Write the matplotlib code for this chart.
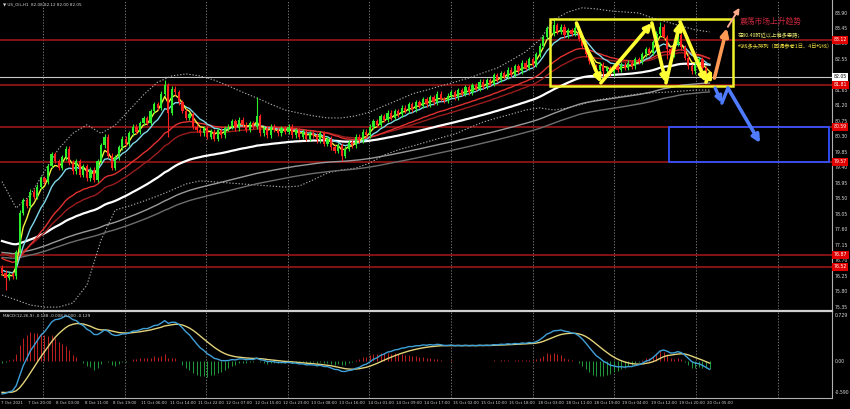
import matplotlib
matplotlib.use("Agg")
import matplotlib.pyplot as plt
from matplotlib.patches import Rectangle
from matplotlib.transforms import blended_transform_factory
import numpy as np

# ---- US_OIL H1 candles (one close per hourly bar) ----
first_open = 76.50
closes = [
    76.35, 76.20, 76.30, 76.25, 76.95, 78.10, 78.45, 78.30,
    78.70, 78.55, 78.85, 79.10, 79.00, 79.45, 79.80, 79.60,
    79.40, 79.70, 79.95, 79.55, 79.30, 79.60, 79.20, 79.45,
    79.10, 79.35, 79.05, 79.60, 80.05, 80.30, 79.75, 79.40,
    79.70, 80.00, 80.25, 80.10, 80.40, 80.60, 80.45, 80.70,
    80.85, 80.70, 81.05, 81.25, 81.15, 81.55, 81.80, 81.00,
    81.70, 81.60, 81.30, 81.05, 80.85, 80.95, 80.60, 80.50,
    80.40, 80.55, 80.30, 80.45, 80.25, 80.50, 80.35, 80.55,
    80.60, 80.75, 80.55, 80.80, 80.65, 80.50, 80.70, 80.60,
    80.90, 80.40, 80.55, 80.35, 80.60, 80.50, 80.40, 80.55,
    80.45, 80.60, 80.35, 80.50, 80.30, 80.45, 80.25, 80.40,
    80.35, 80.20, 80.40, 80.10, 80.25, 80.00, 79.90, 80.05,
    79.75, 79.95, 80.15, 80.05, 80.30, 80.20, 80.45, 80.35,
    80.60, 80.75, 80.65, 80.90, 80.80, 81.00, 80.85, 81.05,
    80.95, 81.15, 81.05, 81.25, 81.10, 81.30, 81.20, 81.40,
    81.25, 81.45, 81.30, 81.55, 81.40, 81.35, 81.50, 81.60,
    81.45, 81.65, 81.55, 81.75, 81.60, 81.80, 81.70, 81.90,
    81.75, 81.95, 81.85, 82.10, 81.95, 82.15, 82.05, 82.25,
    82.10, 82.35, 82.20, 82.45, 82.30, 82.55, 82.40, 82.70,
    82.95, 83.20, 83.45, 83.30, 83.55, 83.35, 83.50, 83.25,
    83.40, 83.30, 83.45, 83.15, 82.95, 82.70, 82.50, 82.35,
    82.25, 82.40, 82.20, 82.30, 82.15, 82.35, 82.25, 82.40,
    82.30, 82.45, 82.35, 82.55, 82.50, 82.70, 82.85, 82.75,
    83.05, 83.30, 83.50, 83.20, 82.85, 82.70, 83.00, 83.25,
    82.90, 82.60, 82.35, 82.20, 82.40, 82.55, 82.30, 82.15,
    82.05,
]
high_spikes = {46: 81.95, 72: 81.45, 156: 83.75, 162: 83.62, 186: 83.65}
low_spikes = {1: 75.85, 47: 80.30, 96: 79.60, 170: 82.00, 188: 82.55}
wick = 0.07

# one date label every 8 bars
date_labels = ["7 Oct 2021", "7 Oct 20:00", "8 Oct 03:00", "8 Oct 11:00", "8 Oct 19:00",
               "11 Oct 06:00", "11 Oct 14:00", "11 Oct 22:00", "12 Oct 07:00", "12 Oct 15:00",
               "12 Oct 23:00", "13 Oct 08:00", "13 Oct 16:00", "14 Oct 01:00", "14 Oct 09:00",
               "14 Oct 17:00", "15 Oct 02:00", "15 Oct 10:00", "15 Oct 18:00", "18 Oct 03:00",
               "18 Oct 11:00", "18 Oct 19:00", "19 Oct 04:00", "19 Oct 12:00", "19 Oct 20:00",
               "20 Oct 05:00"]

# Bollinger bands, read every 4 bars
bb_upper = [79.00, 78.23, 78.60, 79.30, 79.95, 80.40, 80.65, 80.40, 80.64, 81.08,
            81.52, 81.89, 82.07, 82.13, 82.07, 81.95, 81.78, 81.60, 81.43, 81.25,
            81.08, 80.99, 80.91, 80.85, 80.85, 80.91, 81.02, 81.20, 81.37, 81.55,
            81.66, 81.78, 81.89, 82.01, 82.16, 82.30, 82.53, 82.77, 83.12, 83.70,
            83.93, 84.05, 84.02, 83.96, 83.93, 83.90, 83.75, 83.64, 83.52, 83.41,
            83.35]
bb_lower = [75.70, 75.56, 75.41, 75.35, 75.35, 75.47, 75.99, 77.30, 78.17, 78.29,
            78.43, 78.58, 78.75, 78.93, 79.02, 78.99, 78.96, 78.93, 78.90, 78.87,
            78.84, 78.87, 79.05, 79.25, 79.34, 79.39, 79.54, 79.77, 79.92, 80.03,
            80.15, 80.27, 80.38, 80.56, 80.73, 80.85, 80.96, 81.08, 81.14, 81.08,
            81.14, 81.25, 81.37, 81.43, 81.49, 81.55, 81.58, 81.60, 81.63, 81.66,
            81.66]

# moving averages: period and value at the left edge
ma_periods = [4, 9, 24, 34, 66, 120, 144]
ma_seeds = [76.25, 76.45, 76.80, 76.95, 77.30, 76.95, 76.80]
ma_colors = ["#f5f03c", "#7fd8e8", "#e03030", "#9a1c1c", "#ffffff", "#9a9a9a", "#6e6e6e"]
ma_widths = [1.0, 1.0, 1.0, 1.0, 1.6, 1.0, 1.0]

# MACD(12,26,9) starting values at the left edge
macd_seed_fast = 76.58
macd_seed_slow = 77.10
macd_seed_signal = -0.47

levels = [83.12, 81.81, 80.59, 79.57, 76.87, 76.52]
last_price = 82.05
# 82.10 sits under the white price box in the screenshot, so it is not listed
price_ticks = [83.90, 83.45, 83.00, 82.55, 81.65, 81.20, 80.75, 80.30, 79.85,
               79.40, 78.95, 78.50, 78.05, 77.60, 77.15, 76.70, 76.25, 75.80, 75.35]

# drawn objects (bar index, price)
yellow_box = (154.9, 81.78, 206.6, 83.73)
blue_box = (188.5, 79.57, 233.8, 80.59)
zigzag = [(162.4, 83.61), (169.3, 81.87), (183.7, 83.61), (187.7, 81.87),
          (191.7, 83.64), (199.0, 81.89), (200.7, 82.25)]
orange_arrow = [(201.4, 82.01), (204.9, 83.46)]
salmon_arrow = [(205.2, 83.50), (208.5, 84.05)]
blue_path = [(201.6, 81.72), (203.5, 81.28), (205.2, 81.72), (214.3, 80.12)]


def ema(values, period, seed):
    a = 2.0 / (period + 1)
    out, e = [], seed
    for v in values:
        e = e + a * (v - e)
        out.append(e)
    return np.array(out)


c = np.array(closes)
n = len(c)
idx = np.arange(n)
o = np.r_[first_open, c[:-1]]
hi = np.maximum(o, c) + wick
lo = np.minimum(o, c) - wick
for k, v in high_spikes.items():
    hi[k] = v
for k, v in low_spikes.items():
    lo[k] = v

W, H = 850, 409
fig = plt.figure(figsize=(W / 100, H / 100), dpi=100, facecolor="black")
ax = fig.add_axes([0, 1 - 309 / H, 832 / W, 309 / H], facecolor="black")
axm = fig.add_axes([0, 1 - 398 / H, 832 / W, 87 / H], facecolor="black")

xlim = (-2 / 3.5375, 830 / 3.5375)
for a in (ax, axm):
    a.set_xlim(*xlim)
    a.set_xticks([])
    a.set_yticks([])
    for s in a.spines.values():
        s.set_visible(False)
    a.spines["right"].set_visible(True)
    a.spines["right"].set_color("#b0b0b0")
    a.spines["right"].set_linewidth(0.8)
    for k in range(10):
        a.axvline(11.6 + 23.07 * k, color="#8a8a8a", lw=0.6, ls=(0, (1.5, 2)), zorder=0)

ax.set_ylim(75.295, 84.278)
axm.set_ylim(-0.562, 0.760)
axm.spines["top"].set_visible(True)
axm.spines["top"].set_color("#d0d0d0")
axm.spines["top"].set_linewidth(1.6)
axm.spines["bottom"].set_visible(True)
axm.spines["bottom"].set_color("#b0b0b0")
axm.spines["bottom"].set_linewidth(0.8)

# levels and bid line
for lv in levels:
    ax.axhline(lv, color="#a81818", lw=1.1, zorder=1)
ax.axhline(last_price, color="#c8c8c8", lw=0.8, zorder=1)

# bollinger bands
bb_x = idx[::4]
ax.plot(bb_x, bb_upper, color="#a8a8a8", lw=0.8, ls=(0, (1.2, 1.6)), zorder=2)
ax.plot(bb_x, bb_lower, color="#a8a8a8", lw=0.8, ls=(0, (1.2, 1.6)), zorder=2)

# moving averages
for p, s0, col, lw in list(zip(ma_periods, ma_seeds, ma_colors, ma_widths))[::-1]:
    ax.plot(idx, ema(c, p, s0), color=col, lw=lw, zorder=3)

# candles
cols = np.where(c >= o, "#2bf02b", "#ff2020")
ax.vlines(idx, lo, hi, colors=cols, lw=0.8, zorder=4)
body = np.maximum(np.abs(c - o), 0.025)
ax.bar(idx, body, bottom=np.minimum(o, c), width=0.62, color=cols, zorder=5)

# boxes and arrows
x0, y0, x1, y1 = yellow_box
ax.add_patch(Rectangle((x0, y0), x1 - x0, y1 - y0, fill=False, ec="#f2f22a", lw=1.8, zorder=6))
x0, y0, x1, y1 = blue_box
ax.add_patch(Rectangle((x0, y0), x1 - x0, y1 - y0, fill=False, ec="#3452ff", lw=1.3, zorder=6))


def arrow(p, q, color, lw, head=True, ms=9):
    ax.annotate("", xy=q, xytext=p, zorder=7,
                arrowprops=dict(arrowstyle="-|>" if head else "-", color=color, lw=lw,
                                mutation_scale=ms, shrinkA=0, shrinkB=0))


for k in range(len(zigzag) - 1):
    arrow(zigzag[k], zigzag[k + 1], "#ffff33", 2.6, ms=10)
arrow(orange_arrow[0], orange_arrow[1], "#ff9a55", 2.6, ms=11)
arrow(salmon_arrow[0], salmon_arrow[1], "#ffab8a", 1.4, ms=8)
arrow(blue_path[0], blue_path[1], "#4f7cff", 2.4, ms=9)
arrow(blue_path[1], blue_path[2], "#4f7cff", 2.4, head=False)
arrow(blue_path[2], blue_path[3], "#4f7cff", 2.6, ms=11)

cjk = ["Noto Sans CJK SC", "DejaVu Sans"]
ax.text(208.6, 83.64, "震荡市场上升趋势", color="#c8283c", fontsize=5.6, family=cjk,
        va="center", ha="left", zorder=8)
ax.text(208.1, 83.26, "在80.40附近以上偏多思路；", color="#e8e870", fontsize=3.8, family=cjk,
        va="center", ha="left", zorder=8)
ax.text(208.1, 82.94, "均线多头排列（回调参考1日、4日均线）", color="#f0e040", fontsize=3.8,
        family=cjk, va="center", ha="left", zorder=8)

# MACD
dif = ema(c, 12, macd_seed_fast) - ema(c, 26, macd_seed_slow)
dea = ema(dif, 9, macd_seed_signal)
hist = 1.3 * (dif - dea)
axm.vlines(idx, 0, hist, colors=np.where(hist >= 0, "#c42020", "#1f9a3a"), lw=0.7, zorder=2)
axm.plot(idx, dea, color="#e2d27a", lw=1.0, zorder=3)
axm.plot(idx, dif, color="#3fa0d8", lw=1.0, zorder=4)

# right scale
tr = blended_transform_factory(ax.transAxes, ax.transData)
for p in price_ticks:
    ax.text(1.003, p, f"{p:.2f}", transform=tr, fontsize=3.3, color="#d8d8d8",
            va="center", ha="left", clip_on=False)
for lv in levels:
    ax.text(1.002, lv, f"{lv:.2f}", transform=tr, fontsize=3.3, color="white", va="center",
            ha="left", clip_on=False, zorder=9,
            bbox=dict(boxstyle="square,pad=0.3", fc="#e00000", ec="none"))
ax.text(1.002, last_price, f"{last_price:.2f}", transform=tr, fontsize=3.3, color="black",
        va="center", ha="left", clip_on=False, zorder=9,
        bbox=dict(boxstyle="square,pad=0.3", fc="white", ec="none"))

trm = blended_transform_factory(axm.transAxes, axm.transData)
axm.text(1.003, 0.729, "0.729", transform=trm, fontsize=3.3, color="#d8d8d8", va="top",
         ha="left", clip_on=False)
axm.text(1.003, 0.0, "0.00", transform=trm, fontsize=3.3, color="#d8d8d8", va="center",
         ha="left", clip_on=False)
axm.text(1.003, 0.03, "-0.590", transform=axm.transAxes, fontsize=3.3, color="#d8d8d8",
         va="bottom", ha="left", clip_on=False)

# date axis
trd = blended_transform_factory(axm.transData, axm.transAxes)
for k, lab in enumerate(date_labels):
    x = 8 * k - (0.3 if k == 0 else 0.6)
    axm.text(x, -0.06, lab, transform=trd, fontsize=2.9, color="#d0d0d0",
             va="center", ha="left", clip_on=False)

fig.text(3 / W, 1 - 4.5 / H, "▼ US_OIL,H1  82.08 82.12 82.00 82.05", fontsize=3.0,
         color="#d8d8d8", va="center", ha="left")
fig.text(3 / W, 1 - 316 / H, "MACD(12,26,9) -0.138 -0.008 0.000 -0.129", fontsize=3.0,
         color="#d8d8d8", va="center", ha="left")

fig.savefig("out.png", dpi=100, facecolor="black")
